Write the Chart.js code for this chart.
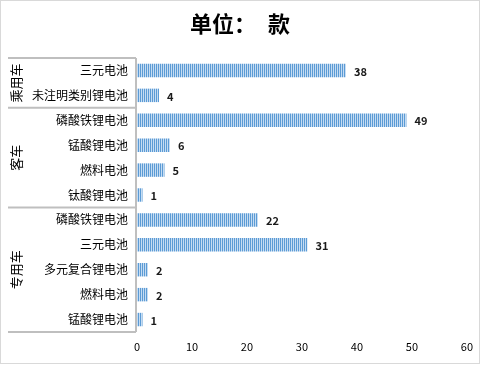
<!DOCTYPE html>
<html>
<head>
<meta charset="utf-8">
<script src="https://cdn.jsdelivr.net/npm/chart.js@4/dist/chart.umd.min.js"></script>
<style>
html,body{margin:0;padding:0;background:#fff;}
#wrap{width:481px;height:365px;position:relative;}
</style>
</head>
<body>
<div id="wrap"><canvas id="c" width="481" height="365"></canvas></div>
<script>
const titleText = '单位：款';
const categories = ['三元电池','未注明类别锂电池','磷酸铁锂电池','锰酸锂电池','燃料电池','钛酸锂电池','磷酸铁锂电池','三元电池','多元复合锂电池','燃料电池','锰酸锂电池'];
const values = [38,4,49,6,5,1,22,31,2,2,1];
const groupNames = ['乘用车','客车','专用车'];
const groupSizes = [2,4,5];
const xTicks = [0,10,20,30,40,50,60];

const FONT = '"Microsoft YaHei","Noto Sans CJK SC","Noto Sans",sans-serif';

// striped fill pattern
const pc = document.createElement('canvas');
pc.width = 2; pc.height = 1;
const pctx = pc.getContext('2d');
pctx.fillStyle = '#5b9bd5'; pctx.fillRect(0,0,1,1);
pctx.fillStyle = '#c6dcf2'; pctx.fillRect(1,0,1,1);
const ctx0 = document.getElementById('c').getContext('2d');
const stripe = ctx0.createPattern(pc,'repeat');

const decor = {
  id:'decor',
  beforeDraw(chart){
    const c = chart.ctx;
    c.save();
    c.fillStyle='#fff'; c.fillRect(0,0,chart.width,chart.height);
    c.strokeStyle='#d9d9d9'; c.lineWidth=1;
    c.strokeRect(0.5,0.5,chart.width-2,chart.height-2);
    c.fillStyle='#000';
    c.font='bold 22px ' + FONT;
    c.textAlign='center'; c.textBaseline='middle';
    // title: head part and last char with wider gap as in reference
    const head = titleText.slice(0,-1), tail = titleText.slice(-1);
    c.textAlign='left';
    c.fillText(head, 190, 24);
    c.fillText(tail, 268, 24);
    c.restore();
  },
  afterDraw(chart){
    const c = chart.ctx;
    const area = chart.chartArea;
    c.save();
    // value labels
    c.font = 'bold 11px ' + FONT;
    c.fillStyle='#1a1a1a'; c.textAlign='left'; c.textBaseline='middle';
    const meta = chart.getDatasetMeta(0);
    meta.data.forEach((bar,i)=>{
      c.fillText(String(values[i]), bar.x + 8, bar.y + 1);
    });
    // group separators
    const band = (area.bottom-area.top)/categories.length;
    c.strokeStyle='#bfbfbf'; c.lineWidth=2;
    c.beginPath();
    c.moveTo(area.left-1, area.top); c.lineTo(area.left-1, area.bottom);
    let idx=0;
    const bounds=[area.top];
    groupSizes.forEach(s=>{ idx+=s; bounds.push(area.top+idx*band); });
    bounds.forEach(b=>{ c.moveTo(8,b); c.lineTo(area.left-1,b); });
    c.stroke();
    // group labels rotated
    c.fillStyle='#000'; c.font='13px ' + FONT;
    c.textAlign='center'; c.textBaseline='middle';
    for(let g=0; g<groupNames.length; g++){
      const cy=(bounds[g]+bounds[g+1])/2;
      c.save(); c.translate(16,cy); c.rotate(-Math.PI/2);
      c.fillText(groupNames[g],0,0);
      c.restore();
    }
    c.restore();
  }
};

new Chart(document.getElementById('c'),{
  type:'bar',
  data:{labels:categories,datasets:[{data:values,backgroundColor:stripe,borderWidth:0,categoryPercentage:1,barPercentage:0.54}]},
  options:{
    indexAxis:'y',
    responsive:false,
    animation:false,
    devicePixelRatio:1,
    layout:{padding:{top:58,right:14,left:0,bottom:0}},
    plugins:{legend:{display:false},tooltip:{enabled:false},title:{display:false}},
    scales:{
      x:{min:0,max:60,
        afterBuildTicks(s){ s.ticks = xTicks.map(v=>({value:v})); },
        grid:{display:false,drawTicks:false},border:{display:false},
        ticks:{color:'#000',font:{size:11,family:FONT},padding:8},
        afterFit(s){ s.height=33; }
      },
      y:{grid:{display:false,drawTicks:false},border:{display:false},
        ticks:{color:'#000',font:{size:12,family:FONT},padding:9},
        afterFit(s){ s.width=137; }
      }
    }
  },
  plugins:[decor]
});
</script>
</body>
</html>
